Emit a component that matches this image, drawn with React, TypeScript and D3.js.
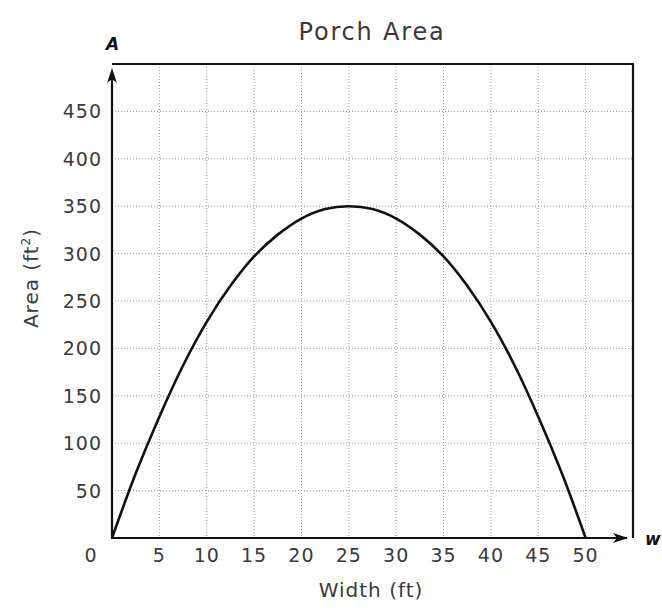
import React from "react";
import * as d3 from "d3";

// curve
const widths = [0, 2.5, 5, 7.5, 10, 12.5, 15, 17.5, 20, 22.5, 25, 27.5, 30, 32.5, 35, 37.5, 40, 42.5, 45, 47.5, 50];
const areas = [0, 68, 128, 182, 228, 266, 297, 320, 337, 347, 350, 347, 337, 320, 297, 266, 228, 182, 128, 68, 0];

const xTicks = [0, 5, 10, 15, 20, 25, 30, 35, 40, 45, 50];
const yTicks = [50, 100, 150, 200, 250, 300, 350, 400, 450];
const xGrid = [5, 10, 15, 20, 25, 30, 35, 40, 45, 50];
const yGrid = [50, 100, 150, 200, 250, 300, 350, 400, 450];

const W = 662;
const H = 611;
const margin = { top: 64, right: 29, bottom: 73, left: 112 };

const font = "'DejaVu Sans', Verdana, sans-serif";
const textColor = "#3a3a3a";

export default function App() {
  const x = d3.scaleLinear().domain([0, 55]).range([margin.left, W - margin.right]);
  const y = d3.scaleLinear().domain([0, 500]).range([H - margin.bottom, margin.top]);

  const data = widths.map((w, i) => ({ w, a: areas[i] }));
  const line = d3.line<{ w: number; a: number }>()
    .x(d => x(d.w))
    .y(d => y(d.a))
    .curve(d3.curveCatmullRom.alpha(0.5));

  const x0 = x(0);
  const y0 = y(0);
  const xEnd = x(55);
  const yTop = y(500);

  return (
    <svg width={W} height={H} style={{ position: "absolute", left: 0, top: 0, background: "#fff" }}>
      {/* grid */}
      <g stroke="#9a9a9a" strokeWidth={1} strokeDasharray="1,2">
        {xGrid.map(v => (
          <line key={"gx" + v} x1={x(v)} x2={x(v)} y1={yTop} y2={y0} />
        ))}
        {yGrid.map(v => (
          <line key={"gy" + v} x1={x0} x2={xEnd} y1={y(v)} y2={y(v)} />
        ))}
      </g>

      {/* frame top and right */}
      <line x1={x0} x2={xEnd + 1} y1={yTop} y2={yTop} stroke="#111" strokeWidth={2.2} />
      <line x1={xEnd} x2={xEnd} y1={yTop} y2={y0} stroke="#111" strokeWidth={2.2} />

      {/* axes */}
      <line x1={x0} x2={x0} y1={y0 + 1} y2={yTop + 8} stroke="#111" strokeWidth={2.2} />
      <line x1={x0} x2={xEnd - 6} y1={y0} y2={y0} stroke="#111" strokeWidth={2.2} />
      <path d={`M${x0},${yTop + 4} L${x0 - 5},${yTop + 19} L${x0},${yTop + 15} L${x0 + 5},${yTop + 19} Z`} fill="#111" />
      <path d={`M${xEnd - 5},${y0} L${xEnd - 20},${y0 - 5} L${xEnd - 16},${y0} L${xEnd - 20},${y0 + 5} Z`} fill="#111" />

      {/* curve */}
      <path d={line(data) || ""} fill="none" stroke="#111" strokeWidth={2.6} />

      {/* y tick labels */}
      <g fontFamily={font} fontSize={19} fill={textColor} textAnchor="end" letterSpacing={1}>
        {yTicks.map(v => (
          <text key={"ty" + v} x={x0 - 10} y={y(v) + 7}>{v}</text>
        ))}
      </g>

      {/* x tick labels */}
      <g fontFamily={font} fontSize={19} fill={textColor} textAnchor="middle" letterSpacing={1}>
        {xTicks.map(v => (
          <text key={"tx" + v} x={v === 0 ? x0 - 21 : x(v)} y={y0 + 24}>{v}</text>
        ))}
      </g>

      {/* titles */}
      <text x={372} y={40} textAnchor="middle" fontFamily={font} fontSize={24} fill={textColor} letterSpacing={1.8}>
        Porch Area
      </text>
      <text x={371} y={597} textAnchor="middle" fontFamily={font} fontSize={20} fill={textColor} letterSpacing={1}>
        Width (ft)
      </text>
      <text
        transform={`translate(38,${278}) rotate(-90)`}
        textAnchor="middle"
        fontFamily={font}
        fontSize={20}
        fill={textColor}
        letterSpacing={1}
      >
        Area (ft<tspan dy={-8} fontSize={12}>2</tspan><tspan dy={8}>)</tspan>
      </text>

      {/* axis letters */}
      <text x={x0 - 6} y={50} fontFamily={font} fontSize={17} fontWeight="bold" fontStyle="italic" fill="#111">A</text>
      <text x={xEnd + 12} y={y0 + 7} fontFamily={font} fontSize={17} fontWeight="bold" fontStyle="italic" fill="#111">w</text>
    </svg>
  );
}
